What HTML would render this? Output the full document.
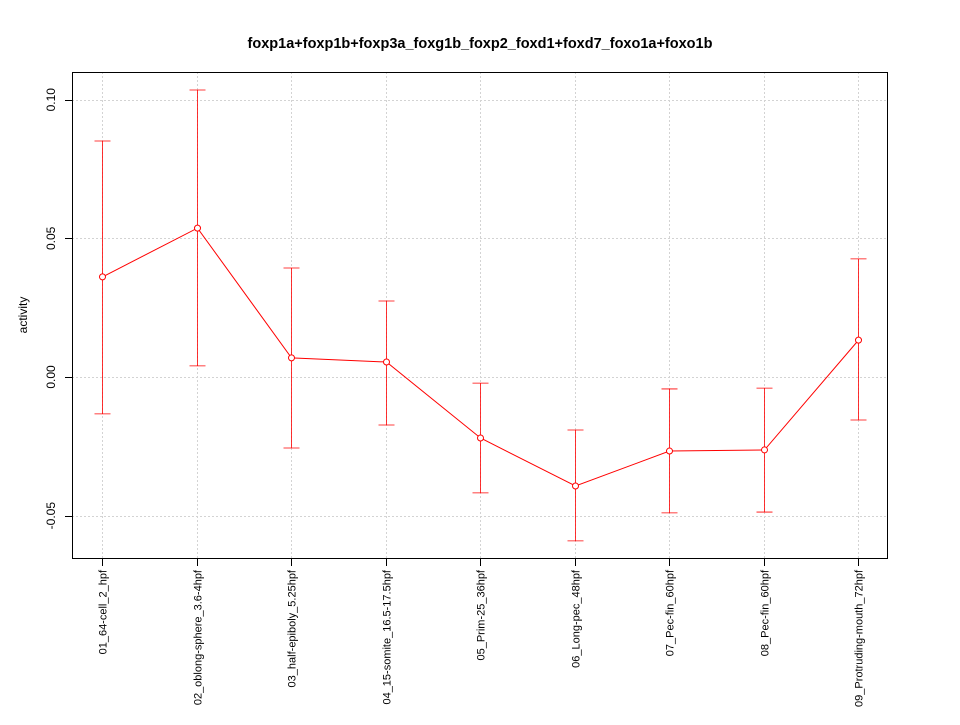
<!DOCTYPE html>
<html><head><meta charset="utf-8"><style>
body{margin:0;background:#fff}
svg text{font-family:"Liberation Sans",sans-serif}
</style></head><body>
<svg id="chart" width="960" height="720" xmlns="http://www.w3.org/2000/svg">
<text x="480" y="48" text-anchor="middle" font-size="14.5" font-weight="bold">foxp1a+foxp1b+foxp3a_foxg1b_foxp2_foxd1+foxd7_foxo1a+foxo1b</text>
<text transform="translate(27,315) rotate(-90)" text-anchor="middle" font-size="12">activity</text>
<g id="grid"></g>
<g id="marks"></g>
<g id="axes"></g>
<rect x="72.5" y="72.5" width="815" height="486" fill="none" stroke="#000" stroke-width="1"/>
</svg>
<script>
const categories=["01_64-cell_2_hpf","02_oblong-sphere_3.6-4hpf","03_half-epiboly_5.25hpf","04_15-somite_16.5-17.5hpf","05_Prim-25_36hpf","06_Long-pec_48hpf","07_Pec-fin_60hpf","08_Pec-fin_60hpf","09_Protruding-mouth_72hpf"];
const means=[0.0361,0.0537,0.0069,0.0054,-0.0220,-0.0393,-0.0267,-0.0263,0.0133];
const upper=[0.0851,0.1035,0.0393,0.0274,-0.0022,-0.0191,-0.0043,-0.0040,0.0426];
const lower=[-0.0133,0.0040,-0.0256,-0.0173,-0.0418,-0.0591,-0.0490,-0.0487,-0.0155];
const yTicks=[-0.05,0.00,0.05,0.10];
const yTickLabels=["-0.05","0.00","0.05","0.10"];
const NS="http://www.w3.org/2000/svg";
const x0=102,x1=858;
function xs(i){return Math.round(x0+(x1-x0)*i/(categories.length-1))+0.5;}
function ys(v){return 377-v*2773;}
function mk(tag,attrs,parent,text){const e=document.createElementNS(NS,tag);for(const k in attrs)e.setAttribute(k,attrs[k]);if(text!==undefined)e.textContent=text;document.getElementById(parent).appendChild(e);return e;}
categories.forEach((c,i)=>{
 const g=mk('line',{x1:xs(i),x2:xs(i),y1:72,y2:559,stroke:'#d3d3d3','stroke-dasharray':'2,2'},'grid');
 
 
 const t=mk('line',{x1:xs(i),x2:xs(i),y1:559,y2:566,stroke:'#000'},'axes');
 
 
 const l=mk('text',{transform:`translate(${xs(i)+4},570) rotate(-90)`,'text-anchor':'end','font-size':'11'},'axes',c);
 
 
});
yTicks.forEach((v,i)=>{
 const y=Math.round(ys(v))+0.5;
 const g=mk('line',{x1:72,x2:888,y1:y,y2:y,stroke:'#d3d3d3','stroke-dasharray':'2,2'},'grid');
 
 
 const t=mk('line',{x1:65,x2:72,y1:y,y2:y,stroke:'#000'},'axes');
 
 
 const l=mk('text',{transform:`translate(55,${ys(v)}) rotate(-90)`,'text-anchor':'middle','font-size':'12'},'axes',yTickLabels[i]);
 
 
});
const line=mk('polyline',{points:means.map((v,i)=>xs(i)+','+ys(v)).join(' '),fill:'none',stroke:'#f00','stroke-width':1},'marks');


means.forEach((v,i)=>{
 const x=xs(i);
 const e=mk('path',{d:`M${x},${ys(lower[i])}V${ys(upper[i])}M${x-8},${ys(upper[i])}H${x+8}M${x-8},${ys(lower[i])}H${x+8}`,stroke:'#f00',fill:'none','stroke-width':0.8},'marks');
 
 
 const p=mk('circle',{cx:x,cy:ys(v),r:3,fill:'#fff',stroke:'#f00'},'marks');
 
 
});
</script>
</body></html>
